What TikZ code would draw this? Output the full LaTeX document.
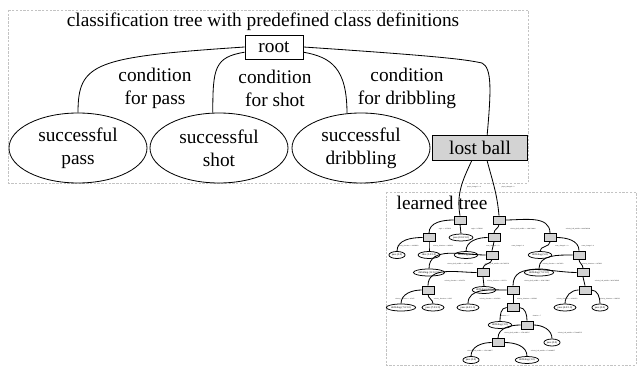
\documentclass[tikz,border=0pt]{standalone}
\usepackage{fontspec}
\setmainfont{Liberation Serif}
\usetikzlibrary{shapes.geometric}

\definecolor{boxgray}{RGB}{211,211,211}
\definecolor{framegray}{RGB}{195,195,195}

\begin{document}
\begin{tikzpicture}[
    x=0.3mm, y=-0.3mm,
    big/.style={font=\fontsize{16.5}{19.5}\selectfont},
    frame/.style={draw=framegray, dash pattern=on 2pt off 1.2pt, line width=0.4pt},
    class node/.style={ellipse, draw, big, align=center, minimum width=41.4mm, minimum height=21mm, inner sep=0pt, line width=0.7pt},
    main box/.style={rectangle, draw, big, inner sep=0pt, line width=0.7pt},
    cond label/.style={big, align=center, inner sep=0pt},
    tree edge/.style={line width=0.7pt},
    tbox/.style={rectangle, draw, fill=boxgray, minimum width=3.6mm, minimum height=2.4mm, inner sep=0pt, line width=0.65pt},
    leaf/.style={ellipse, draw, font=\fontsize{2.3}{2.7}\selectfont, inner sep=0.4pt, minimum height=2.1mm, line width=0.65pt},
    lbl/.style={font=\fontsize{1.4}{1.7}\selectfont, inner sep=0pt},
    lft/.style={out=180, in=90},
    rgt/.style={out=0, in=90},
    str/.style={out=-90, in=90}
]
    \useasboundingbox (0,0) rectangle (637,367);
    \draw[frame] (8,10) rectangle (528,183);
    \draw[frame] (386,192) rectangle (636,365);

    \node[big] (title) at (263,22) {classification tree with predefined class definitions};
    \node[main box, minimum width=17.4mm, minimum height=7.2mm] (root) at (274,47) {root};
    \node[class node] (pass) at (78,148) {successful\\pass};
    \node[class node] (shot) at (219,148) {successful\\shot};
    \node[class node] (dribbling) at (361,148) {successful\\dribbling};
    \node[main box, fill=boxgray, minimum width=28.5mm, minimum height=7.5mm] (lost) at (480,148) {lost ball};

    \node[cond label] (c1) at (155,88) {condition\\for pass};
    \node[cond label] (c2) at (275,88) {condition\\for shot};
    \node[cond label] (c3) at (407,88) {condition\\for dribbling};

    \draw[tree edge] (root.west) .. controls +(-150,10) and +(0,-50) .. (pass.north);
    \draw[tree edge] (root.190) .. controls +(-30,5) and +(0,-45) .. (shot.100);
    \draw[tree edge] (root.350) .. controls +(28,5) and +(0,-45) .. (dribbling.112);
    \draw[tree edge] (root.east) .. controls +(150,10) and +(-15,-3) .. (482,63)
        .. controls +(10,5) and +(4,-45) .. (lost.61);

    \node[big] (learned) at (442,203) {learned tree};

    \node[tbox] (n1) at (460,220) {};
    \node[tbox] (n2) at (499,220) {};
    \node[tbox] (n3) at (429,237.5) {};
    \node[leaf] (l1) at (461,237.5) {pass (10.0/1.0)};
    \node[tbox] (n4) at (494,237.5) {};
    \node[tbox] (n5) at (550,237.5) {};
    \node[leaf] (l2) at (397,255) {pass (2.0)};
    \node[leaf] (l3) at (429,255) {shot (3.0/1.0)};
    \node[leaf] (l4) at (466,255) {dribbling (3.0)};
    \node[tbox] (n6) at (492,255) {};
    \node[leaf] (l5) at (540,255) {dribbling (5.0)};
    \node[tbox] (n7) at (579,255) {};
    \node[leaf] (l6) at (429,272.5) {dribbling (12.0/2.0)};
    \node[tbox] (n8) at (483,272.5) {};
    \node[leaf] (l7) at (539,272.5) {dribbling (7.0/1.0)};
    \node[tbox] (n9) at (583,272.5) {};
    \node[tbox] (n10) at (428,290) {};
    \node[leaf] (l8) at (484,290) {dribbling (3.0)};
    \node[tbox] (n11) at (513,290) {};
    \node[tbox] (n12) at (585,290) {};
    \node[leaf] (l9) at (401,307.5) {dribbling (7.0/1.0)};
    \node[leaf] (l10) at (433,307.5) {pass (7.0/2.0)};
    \node[leaf] (l11) at (468,307.5) {pass (4.0/1.0)};
    \node[tbox] (n13) at (513,307.5) {};
    \node[leaf] (l12) at (565,307.5) {pass (4.0/1.0)};
    \node[leaf] (l13) at (600,307.5) {pass (2.0)};
    \node[leaf] (l14) at (500,325) {dribbling (3.0)};
    \node[tbox] (n14) at (527,325) {};
    \node[tbox] (n15) at (498,342.5) {};
    \node[leaf] (l15) at (552,342.5) {pass (3.0)};
    \node[leaf] (l16) at (471,360) {pass (2.0)};
    \node[leaf] (l17) at (527,360) {dribbling (3.0)};

    \draw[tree edge] (lost.237) to[out=-115, in=100] (n1.north)
        node[lbl] at (474,187) {player\_changed <= 0};
    \draw[tree edge] (lost.299) to[out=-75, in=95] (n2.north)
        node[lbl] at (508,187) {player\_changed > 0};

    \foreach \p/\c/\s/\lx/\ly/\t in {
        n1/n3/lft/445/229/angle <= 0.578603,
        n1/l1/str/477/229/angle > 0.578603,
        n2/n4/str/523/229/velocity\_ball\_middle <= 1400.500000,
        n2/n5/rgt/578/229/velocity\_ball\_middle > 1400.500000,
        n3/l2/lft/408/246.5/velocity\_direction <= 0.968269,
        n3/l3/str/443/246.5/velocity\_direction > 0.968269,
        n4/l4/lft/493/246.5/team\_changed <= 0,
        n4/n6/str/518/246.5/team\_changed > 0,
        n5/l5/str/562/246.5/team\_changed <= 0,
        n5/n7/rgt/588/246.5/team\_changed > 0,
        n6/l6/lft/460/264/velocity\_ball\_middle <= 1817.862793,
        n6/n8/str/497/264/velocity\_ball\_middle > 1817.862793,
        n7/l7/lft/553/264/velocity\_direction <= 0.473662,
        n7/n9/str/592/264/velocity\_direction > 0.473662,
        n8/n10/lft/455/281/velocity\_direction <= 0.502751,
        n8/l8/str/497/281/velocity\_direction > 0.502751,
        n9/n11/lft/537/281/velocity\_ball\_middle <= 2039.705805,
        n9/n12/str/607/281/velocity\_ball\_middle > 2039.705805,
        n10/l9/lft/405/299/velocity\_direction <= 0.5165,
        n10/l10/str/443/299/velocity\_direction > 0.5165,
        n11/l11/lft/490/299/velocity\_direction <= 0.395282,
        n11/n13/str/527/299/velocity\_direction > 0.395282,
        n12/l12/lft/567/299/velocity\_direction <= 0.381562,
        n12/l13/rgt/610/299/velocity\_direction > 0.381562,
        n13/l14/lft/505/316/duration <= 7,
        n13/n14/rgt/537/316/duration > 7,
        n14/n15/lft/517/333.5/velocity\_ball\_middle <= 1750.466797,
        n14/l15/rgt/570/333.5/velocity\_ball\_middle > 1750.466797,
        n15/l16/lft/480/351/velocity\_ball\_middle <= 1714.998877,
        n15/l17/rgt/543/351/velocity\_ball\_middle > 1714.998877}
        \draw[tree edge] (\p) to[\s] (\c) node[lbl] at (\lx,\ly) {\t};
\end{tikzpicture}
\end{document}
